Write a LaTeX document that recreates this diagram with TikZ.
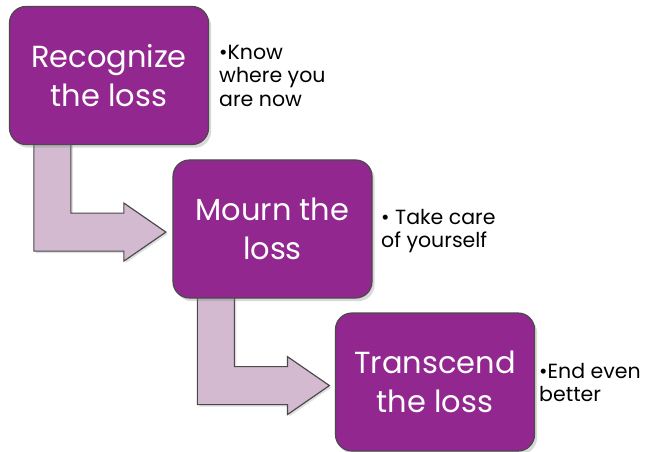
\documentclass[tikz,border=0pt]{standalone}
\usepackage{fontspec}
\setmainfont{Poppins}
\usetikzlibrary{shadows,backgrounds}
\definecolor{stepviolet}{HTML}{92278F}
\definecolor{arrowmauve}{HTML}{D3BAD0}
\definecolor{edgegray}{HTML}{4A4A4A}

\begin{document}
\begin{tikzpicture}[x=0.03cm, y=-0.03cm,
  stepbox/.style={draw=edgegray, line width=1pt, fill=stepviolet, rounded corners=14pt,
    minimum width=5.97cm, minimum height=4.14cm, inner sep=2pt, align=center,
    text=white, font=\fontsize{26}{33}\selectfont,
    drop shadow={opacity=0.3, shadow xshift=.4ex, shadow yshift=-.5ex}},
  note/.style={anchor=north west, align=left, inner sep=0pt,
    font=\fontsize{17.5}{20}\selectfont},
  bentarrow/.style={draw=edgegray, line width=1pt, fill=arrowmauve, line join=miter,
    drop shadow={opacity=0.25, shadow xshift=.3ex, shadow yshift=-.3ex}}]
  \useasboundingbox (0,0) rectangle (649,451);

  % the three steps
  \node[stepbox] (recognize) at (109,75.5) {Recognize\\the loss};
  \node[stepbox] (mourn)     at (272.5,229) {Mourn the\\loss};
  \node[stepbox] (transcend) at (435,382) {Transcend\\the loss};

  % what to do at each step
  \node[note] (know) at (219,45)  {•Know\\where you\\are now};
  \node[note] (care) at (381,209) {• Take care\\of yourself};
  \node[note] (end)  at (539,363) {•End even\\better};

  % bent arrows from one step down to the next
  \begin{scope}[on background layer]
    \foreach \from in {recognize, mourn} {
      \draw[bentarrow, shift={(\from.south west)}]
        (25,-6) -- (62,-6) -- (62,68) -- (115,68) -- (115,58) -- (157,87)
        -- (115,116) -- (115,106) -- (25,106) -- cycle;
    }
  \end{scope}
\end{tikzpicture}
\end{document}
